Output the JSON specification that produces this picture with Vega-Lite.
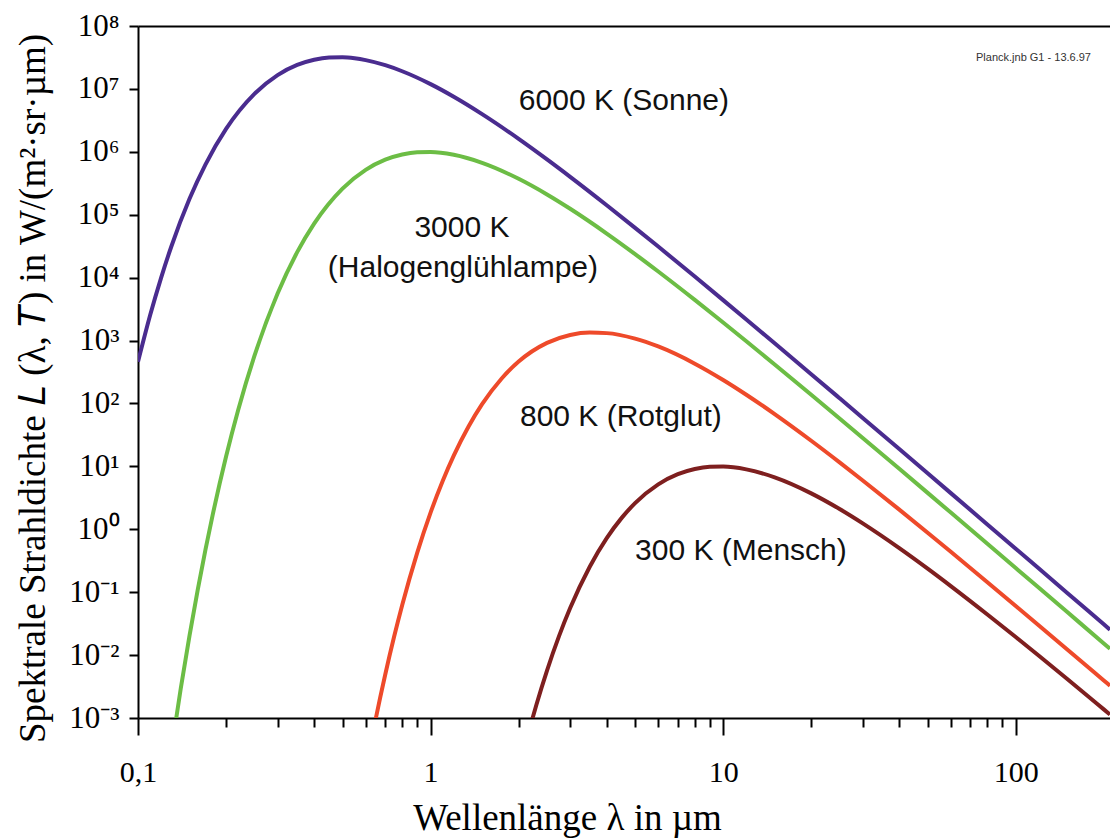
{
  "$schema": "https://vega.github.io/schema/vega-lite/v6.json",
  "width": 972,
  "height": 692,
  "autosize": "none",
  "padding": {"left": 138, "top": 26, "right": 0, "bottom": 122},
  "background": "white",
  "config": {
    "view": {"stroke": null},
    "axis": {
      "grid": false,
      "domainColor": "black",
      "domainWidth": 2,
      "tickColor": "black",
      "tickWidth": 2,
      "labelFont": "Liberation Serif",
      "labelFontSize": 30,
      "labelColor": "black",
      "titleFont": "Liberation Serif",
      "titleFontSize": 37,
      "titleFontWeight": "normal",
      "titleColor": "black"
    }
  },
  "datasets": {
    "curves": [
      {"curve": "6000 K", "wavelength": 0.1, "radiance": 459},
      {"curve": "6000 K", "wavelength": 0.11, "radiance": 2521},
      {"curve": "6000 K", "wavelength": 0.12, "radiance": 10030},
      {"curve": "6000 K", "wavelength": 0.13, "radiance": 31280},
      {"curve": "6000 K", "wavelength": 0.15, "radiance": 178900},
      {"curve": "6000 K", "wavelength": 0.17, "radiance": 627500},
      {"curve": "6000 K", "wavelength": 0.2, "radiance": 2311000},
      {"curve": "6000 K", "wavelength": 0.25, "radiance": 8327000},
      {"curve": "6000 K", "wavelength": 0.3, "radiance": 16560000},
      {"curve": "6000 K", "wavelength": 0.35, "radiance": 24020000},
      {"curve": "6000 K", "wavelength": 0.4, "radiance": 29050000},
      {"curve": "6000 K", "wavelength": 0.45, "radiance": 31460000},
      {"curve": "6000 K", "wavelength": 0.5, "radiance": 31760000},
      {"curve": "6000 K", "wavelength": 0.55, "radiance": 30630000},
      {"curve": "6000 K", "wavelength": 0.6, "radiance": 28670000},
      {"curve": "6000 K", "wavelength": 0.7, "radiance": 23820000},
      {"curve": "6000 K", "wavelength": 0.8, "radiance": 19090000},
      {"curve": "6000 K", "wavelength": 1, "radiance": 11910000},
      {"curve": "6000 K", "wavelength": 1.2, "radiance": 7506000},
      {"curve": "6000 K", "wavelength": 1.5, "radiance": 3975000},
      {"curve": "6000 K", "wavelength": 2, "radiance": 1607000},
      {"curve": "6000 K", "wavelength": 2.5, "radiance": 757700},
      {"curve": "6000 K", "wavelength": 3, "radiance": 400400},
      {"curve": "6000 K", "wavelength": 4, "radiance": 141600},
      {"curve": "6000 K", "wavelength": 5, "radiance": 61930},
      {"curve": "6000 K", "wavelength": 6, "radiance": 31180},
      {"curve": "6000 K", "wavelength": 8, "radiance": 10400},
      {"curve": "6000 K", "wavelength": 10, "radiance": 4396},
      {"curve": "6000 K", "wavelength": 12, "radiance": 2164},
      {"curve": "6000 K", "wavelength": 15, "radiance": 904.7},
      {"curve": "6000 K", "wavelength": 20, "radiance": 292.2},
      {"curve": "6000 K", "wavelength": 25, "radiance": 121.1},
      {"curve": "6000 K", "wavelength": 30, "radiance": 58.9},
      {"curve": "6000 K", "wavelength": 40, "radiance": 18.82},
      {"curve": "6000 K", "wavelength": 50, "radiance": 7.757},
      {"curve": "6000 K", "wavelength": 60, "radiance": 3.757},
      {"curve": "6000 K", "wavelength": 80, "radiance": 1.195},
      {"curve": "6000 K", "wavelength": 100, "radiance": 0.4908},
      {"curve": "6000 K", "wavelength": 120, "radiance": 0.2371},
      {"curve": "6000 K", "wavelength": 150, "radiance": 0.09733},
      {"curve": "6000 K", "wavelength": 200, "radiance": 0.03085},
      {"curve": "6000 K", "wavelength": 210, "radiance": 0.02539},

      {"curve": "3000 K", "wavelength": 0.13, "radiance": 0.000305},
      {"curve": "3000 K", "wavelength": 0.14, "radiance": 0.00294},
      {"curve": "3000 K", "wavelength": 0.15, "radiance": 0.02041},
      {"curve": "3000 K", "wavelength": 0.16, "radiance": 0.109},
      {"curve": "3000 K", "wavelength": 0.17, "radiance": 0.4695},
      {"curve": "3000 K", "wavelength": 0.18, "radiance": 1.691},
      {"curve": "3000 K", "wavelength": 0.2, "radiance": 14.34},
      {"curve": "3000 K", "wavelength": 0.22, "radiance": 78.76},
      {"curve": "3000 K", "wavelength": 0.25, "radiance": 568.6},
      {"curve": "3000 K", "wavelength": 0.3, "radiance": 5591},
      {"curve": "3000 K", "wavelength": 0.35, "radiance": 25390},
      {"curve": "3000 K", "wavelength": 0.4, "radiance": 72190},
      {"curve": "3000 K", "wavelength": 0.5, "radiance": 260300},
      {"curve": "3000 K", "wavelength": 0.6, "radiance": 517500},
      {"curve": "3000 K", "wavelength": 0.7, "radiance": 750600},
      {"curve": "3000 K", "wavelength": 0.8, "radiance": 907800},
      {"curve": "3000 K", "wavelength": 0.9, "radiance": 983100},
      {"curve": "3000 K", "wavelength": 1, "radiance": 992400},
      {"curve": "3000 K", "wavelength": 1.2, "radiance": 896000},
      {"curve": "3000 K", "wavelength": 1.5, "radiance": 668300},
      {"curve": "3000 K", "wavelength": 2, "radiance": 372100},
      {"curve": "3000 K", "wavelength": 2.5, "radiance": 209900},
      {"curve": "3000 K", "wavelength": 3, "radiance": 124200},
      {"curve": "3000 K", "wavelength": 4, "radiance": 50200},
      {"curve": "3000 K", "wavelength": 5, "radiance": 23680},
      {"curve": "3000 K", "wavelength": 6, "radiance": 12510},
      {"curve": "3000 K", "wavelength": 8, "radiance": 4426},
      {"curve": "3000 K", "wavelength": 10, "radiance": 1936},
      {"curve": "3000 K", "wavelength": 12, "radiance": 974.4},
      {"curve": "3000 K", "wavelength": 15, "radiance": 416.3},
      {"curve": "3000 K", "wavelength": 20, "radiance": 137.3},
      {"curve": "3000 K", "wavelength": 25, "radiance": 57.68},
      {"curve": "3000 K", "wavelength": 30, "radiance": 28.27},
      {"curve": "3000 K", "wavelength": 40, "radiance": 9.131},
      {"curve": "3000 K", "wavelength": 50, "radiance": 3.786},
      {"curve": "3000 K", "wavelength": 60, "radiance": 1.841},
      {"curve": "3000 K", "wavelength": 80, "radiance": 0.5883},
      {"curve": "3000 K", "wavelength": 100, "radiance": 0.2424},
      {"curve": "3000 K", "wavelength": 120, "radiance": 0.1174},
      {"curve": "3000 K", "wavelength": 150, "radiance": 0.04827},
      {"curve": "3000 K", "wavelength": 200, "radiance": 0.01534},
      {"curve": "3000 K", "wavelength": 210, "radiance": 0.01262},

      {"curve": "800 K", "wavelength": 0.62, "radiance": 0.000328},
      {"curve": "800 K", "wavelength": 0.65, "radiance": 0.000989},
      {"curve": "800 K", "wavelength": 0.7, "radiance": 0.00492},
      {"curve": "800 K", "wavelength": 0.75, "radiance": 0.01933},
      {"curve": "800 K", "wavelength": 0.8, "radiance": 0.06269},
      {"curve": "800 K", "wavelength": 0.9, "radiance": 0.4228},
      {"curve": "800 K", "wavelength": 1, "radiance": 1.842},
      {"curve": "800 K", "wavelength": 1.1, "radiance": 5.865},
      {"curve": "800 K", "wavelength": 1.2, "radiance": 14.83},
      {"curve": "800 K", "wavelength": 1.35, "radiance": 43.51},
      {"curve": "800 K", "wavelength": 1.5, "radiance": 97.38},
      {"curve": "800 K", "wavelength": 1.75, "radiance": 249.7},
      {"curve": "800 K", "wavelength": 2, "radiance": 462.9},
      {"curve": "800 K", "wavelength": 2.5, "radiance": 916.9},
      {"curve": "800 K", "wavelength": 3, "radiance": 1224},
      {"curve": "800 K", "wavelength": 3.5, "radiance": 1338},
      {"curve": "800 K", "wavelength": 4, "radiance": 1312},
      {"curve": "800 K", "wavelength": 5, "radiance": 1074},
      {"curve": "800 K", "wavelength": 6, "radiance": 804.6},
      {"curve": "800 K", "wavelength": 8, "radiance": 429.1},
      {"curve": "800 K", "wavelength": 10, "radiance": 236.3},
      {"curve": "800 K", "wavelength": 12, "radiance": 137.7},
      {"curve": "800 K", "wavelength": 15, "radiance": 67.7},
      {"curve": "800 K", "wavelength": 20, "radiance": 25.53},
      {"curve": "800 K", "wavelength": 25, "radiance": 11.58},
      {"curve": "800 K", "wavelength": 30, "radiance": 5.969},
      {"curve": "800 K", "wavelength": 40, "radiance": 2.049},
      {"curve": "800 K", "wavelength": 50, "radiance": 0.8804},
      {"curve": "800 K", "wavelength": 60, "radiance": 0.4382},
      {"curve": "800 K", "wavelength": 80, "radiance": 0.1442},
      {"curve": "800 K", "wavelength": 100, "radiance": 0.06045},
      {"curve": "800 K", "wavelength": 120, "radiance": 0.02961},
      {"curve": "800 K", "wavelength": 150, "radiance": 0.01231},
      {"curve": "800 K", "wavelength": 200, "radiance": 0.003956},
      {"curve": "800 K", "wavelength": 210, "radiance": 0.003263},

      {"curve": "300 K", "wavelength": 2.1, "radiance": 0.000352},
      {"curve": "300 K", "wavelength": 2.2, "radiance": 0.000788},
      {"curve": "300 K", "wavelength": 2.3, "radiance": 0.001627},
      {"curve": "300 K", "wavelength": 2.5, "radiance": 0.005686},
      {"curve": "300 K", "wavelength": 2.75, "radiance": 0.02019},
      {"curve": "300 K", "wavelength": 3, "radiance": 0.05591},
      {"curve": "300 K", "wavelength": 3.5, "radiance": 0.2539},
      {"curve": "300 K", "wavelength": 4, "radiance": 0.7219},
      {"curve": "300 K", "wavelength": 4.5, "radiance": 1.518},
      {"curve": "300 K", "wavelength": 5, "radiance": 2.603},
      {"curve": "300 K", "wavelength": 6, "radiance": 5.175},
      {"curve": "300 K", "wavelength": 7, "radiance": 7.506},
      {"curve": "300 K", "wavelength": 8, "radiance": 9.078},
      {"curve": "300 K", "wavelength": 9, "radiance": 9.831},
      {"curve": "300 K", "wavelength": 10, "radiance": 9.924},
      {"curve": "300 K", "wavelength": 12, "radiance": 8.96},
      {"curve": "300 K", "wavelength": 15, "radiance": 6.683},
      {"curve": "300 K", "wavelength": 20, "radiance": 3.721},
      {"curve": "300 K", "wavelength": 25, "radiance": 2.099},
      {"curve": "300 K", "wavelength": 30, "radiance": 1.242},
      {"curve": "300 K", "wavelength": 40, "radiance": 0.502},
      {"curve": "300 K", "wavelength": 50, "radiance": 0.2368},
      {"curve": "300 K", "wavelength": 60, "radiance": 0.1251},
      {"curve": "300 K", "wavelength": 80, "radiance": 0.04426},
      {"curve": "300 K", "wavelength": 100, "radiance": 0.01936},
      {"curve": "300 K", "wavelength": 120, "radiance": 0.009744},
      {"curve": "300 K", "wavelength": 150, "radiance": 0.004163},
      {"curve": "300 K", "wavelength": 200, "radiance": 0.001373},
      {"curve": "300 K", "wavelength": 210, "radiance": 0.001137}
    ],
    "labels": [
      {"text": "6000 K (Sonne)", "wavelength": 4.58, "radiance": 6430000},
      {"text": "3000 K", "wavelength": 1.28, "radiance": 61500},
      {"text": "(Halogenglühlampe)", "wavelength": 1.29, "radiance": 14200},
      {"text": "800 K (Rotglut)", "wavelength": 4.47, "radiance": 60.8},
      {"text": "300 K (Mensch)", "wavelength": 11.5, "radiance": 0.45}
    ],
    "note": [
      {"text": "Planck.jnb G1 - 13.6.97", "wavelength": 115, "radiance": 31000000}
    ]
  },
  "layer": [
    {
      "data": {"name": "curves"},
      "mark": {"type": "line", "clip": true, "strokeWidth": 4, "interpolate": "monotone"},
      "encoding": {
        "x": {
          "field": "wavelength",
          "type": "quantitative",
          "scale": {"type": "log", "domain": [0.1, 210], "nice": false},
          "axis": {
            "orient": "bottom",
            "values": [0.1, 0.2, 0.3, 0.4, 0.5, 0.6, 0.7, 0.8, 0.9, 1, 2, 3, 4, 5, 6, 7, 8, 9, 10, 20, 30, 40, 50, 60, 70, 80, 90, 100],
            "labelExpr": "datum.value == 0.1 ? '0,1' : datum.value == 1 ? '1' : datum.value == 10 ? '10' : datum.value == 100 ? '100' : ''",
            "labelOverlap": false,
            "labelFlush": false,
            "tickSize": {"condition": {"test": "datum.value == 0.1 || datum.value == 1 || datum.value == 10 || datum.value == 100", "value": 17}, "value": 9},
            "labelPadding": 22,
            "title": "Wellenlänge λ in µm",
            "titleX": 429,
            "titleY": 111,
            "titleAlign": "center",
            "titleBaseline": "alphabetic"
          }
        },
        "y": {
          "field": "radiance",
          "type": "quantitative",
          "scale": {"type": "log", "domain": [0.001, 100000000], "nice": false},
          "axis": {
            "orient": "left",
            "values": [0.001, 0.01, 0.1, 1, 10, 100, 1000, 10000, 100000, 1000000, 10000000, 100000000],
            "labelExpr": "['10⁻³','10⁻²','10⁻¹','10⁰','10¹','10²','10³','10⁴','10⁵','10⁶','10⁷','10⁸'][round(log(datum.value)/LN10)+3]",
            "labelOverlap": false,
            "labelFlush": false,
            "labelFontSize": 31,
            "tickSize": 9,
            "labelPadding": 10,
            "title": "Spektrale Strahldichte 𝐿 (λ,  𝑇) in W/(m²·sr·µm)",
            "titleAngle": 270,
            "titleX": -94,
            "titleY": 362,
            "titleAlign": "center",
            "titleBaseline": "alphabetic"
          }
        },
        "color": {
          "field": "curve",
          "type": "nominal",
          "scale": {"domain": ["6000 K", "3000 K", "800 K", "300 K"], "range": ["#4A2C8F", "#6CBD45", "#EE4A2A", "#7E1F1F"]},
          "legend": null
        }
      }
    },
    {
      "data": {"name": "labels"},
      "mark": {"type": "text", "font": "Liberation Sans", "fontSize": 30, "color": "#111111", "align": "center", "baseline": "middle"},
      "encoding": {
        "x": {
          "field": "wavelength",
          "type": "quantitative",
          "axis": {"orient": "top", "ticks": false, "labels": false, "title": null, "domainColor": "black", "domainWidth": 2}
        },
        "y": {"field": "radiance", "type": "quantitative", "axis": null},
        "text": {"field": "text"}
      }
    },
    {
      "data": {"name": "note"},
      "mark": {"type": "text", "font": "Liberation Sans Narrow, Liberation Sans", "fontSize": 11, "color": "#333333", "align": "center", "baseline": "middle"},
      "encoding": {
        "x": {"field": "wavelength", "type": "quantitative", "axis": null},
        "y": {"field": "radiance", "type": "quantitative", "axis": null},
        "text": {"field": "text"}
      }
    }
  ],
  "resolve": {"axis": {"x": "independent", "y": "independent"}}
}
